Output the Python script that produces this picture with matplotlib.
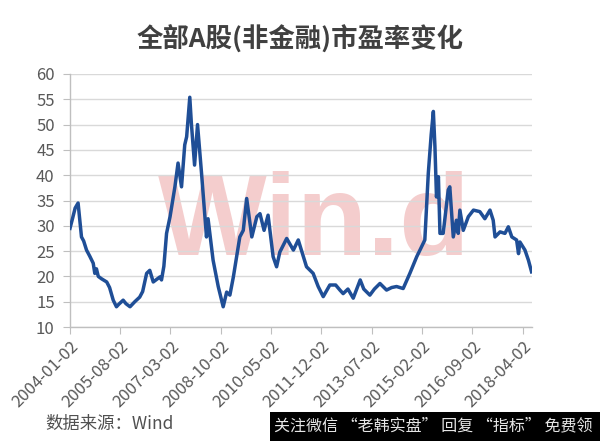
import matplotlib
matplotlib.use('Agg')
import matplotlib.pyplot as plt
import matplotlib.dates as mdates
import pandas as pd

plt.rcParams['font.family'] = ['Noto Sans CJK SC', 'DejaVu Sans']

TITLE = '全部A股(非金融)市盈率变化'
SOURCE = '数据来源：Wind'
FOOTER = '关注微信 “老韩实盘” 回复 “指标” 免费领'

DATES = [
    '2004-01-02', '2004-02-01', '2004-03-01', '2004-04-04', '2004-05-13',
    '2004-06-07', '2004-07-10', '2004-08-16', '2004-09-25', '2004-10-13',
    '2004-11-01', '2004-11-22', '2005-01-01', '2005-02-27', '2005-04-01',
    '2005-05-13', '2005-06-19', '2005-07-16', '2005-09-04', '2005-10-07',
    '2005-11-22', '2006-01-16', '2006-03-13', '2006-04-16', '2006-06-01',
    '2006-07-07', '2006-08-16', '2006-10-01', '2006-11-01', '2006-11-19',
    '2006-12-16', '2007-01-16', '2007-02-25', '2007-04-22', '2007-05-28',
    '2007-07-07', '2007-08-13', '2007-09-04', '2007-10-10', '2007-10-28',
    '2007-12-04', '2008-01-07', '2008-02-22', '2008-04-19', '2008-05-07',
    '2008-07-04', '2008-09-01', '2008-10-28', '2008-12-07', '2009-01-13',
    '2009-02-22', '2009-05-07', '2009-06-16', '2009-07-25', '2009-09-22',
    '2009-11-19', '2009-12-25', '2010-02-10', '2010-03-28', '2010-05-25',
    '2010-07-04', '2010-08-10', '2010-10-28', '2011-01-13', '2011-03-10',
    '2011-06-13', '2011-08-28', '2011-10-25', '2011-12-22', '2012-03-07',
    '2012-05-13', '2012-07-01', '2012-08-07', '2012-10-01', '2012-12-01',
    '2013-02-19', '2013-04-01', '2013-06-10', '2013-08-01', '2013-10-04',
    '2013-12-19', '2014-02-16', '2014-04-13', '2014-06-28', '2014-09-13',
    '2014-12-01', '2015-01-07', '2015-03-04', '2015-04-13', '2015-05-16',
    '2015-06-10', '2015-06-28', '2015-07-16', '2015-08-07', '2015-08-25',
    '2015-10-01', '2015-11-28', '2015-12-16', '2016-01-25', '2016-03-01',
    '2016-03-22', '2016-04-10', '2016-05-19', '2016-07-16', '2016-09-13',
    '2016-11-25', '2017-01-22', '2017-03-22', '2017-04-28', '2017-05-19',
    '2017-07-16', '2017-09-10', '2017-10-19', '2017-11-28', '2018-01-22',
    '2018-02-13', '2018-03-01', '2018-04-28', '2018-06-07', '2018-07-13',
]
PE = [
    29.5, 31.5, 33.5, 34.5, 27.8,
    27.0, 25.2, 24.0, 22.6, 20.6,
    21.5, 20.0, 19.5, 18.9, 17.8,
    15.3, 14.0, 14.5, 15.3, 14.6,
    14.0, 15.0, 15.9, 17.0, 20.6,
    21.2, 18.9, 19.5, 19.9, 19.3,
    22.0, 28.5, 31.8, 37.7, 42.4,
    37.7, 46.0, 47.6, 55.4, 50.3,
    42.0, 50.0, 40.4, 27.8, 31.4,
    23.2, 18.0, 14.0, 16.9, 16.3,
    19.9, 27.8, 29.1, 35.4, 27.8,
    31.8, 32.4, 29.1, 32.1, 23.9,
    21.9, 24.8, 27.5, 25.2, 27.2,
    21.9, 20.6, 18.0, 16.0, 18.3,
    18.3, 17.3, 16.6, 17.5, 15.7,
    19.3, 17.5, 16.3, 17.5, 18.6,
    17.3, 17.8, 18.0, 17.6, 20.6,
    23.9, 25.2, 27.2, 40.4, 48.0,
    52.6, 45.7, 35.7, 39.7, 28.5,
    28.5, 37.1, 37.7, 27.8, 31.1,
    28.5, 33.1, 29.1, 31.8, 33.1,
    32.8, 31.4, 33.1, 31.1, 27.8,
    28.8, 28.5, 29.8, 27.8, 27.2,
    24.5, 26.8, 25.2, 23.2, 20.9,
]
TICK_DATES = ['2004-01-02', '2005-08-02', '2007-03-02', '2008-10-02', '2010-05-02',
              '2011-12-02', '2013-07-02', '2015-02-02', '2016-09-02', '2018-04-02']
Y_TICKS = [10, 15, 20, 25, 30, 35, 40, 45, 50, 55, 60]

dates = pd.to_datetime(DATES)
ticks = pd.to_datetime(TICK_DATES)

fig = plt.figure(figsize=(6.0, 4.41), dpi=100)
ax = fig.add_axes([70 / 600, 1 - 327 / 441, 462 / 600, 253 / 441])

ax.plot(dates, PE, color='#1f4e96', lw=2.5, zorder=3, solid_joinstyle='round')

ax.set_ylim(10, 60)
ax.set_yticks(Y_TICKS)
ax.set_xlim(dates[0], dates[-1] + pd.Timedelta(days=5))
ax.set_xticks(ticks)
ax.xaxis.set_major_formatter(mdates.DateFormatter('%Y-%m-%d'))
ax.grid(axis='y', color='#d9d9d9', lw=1.0, zorder=0)

for side in ('top', 'right'):
    ax.spines[side].set_visible(False)
for side in ('left', 'bottom'):
    ax.spines[side].set_color('#bfbfbf')
    ax.spines[side].set_linewidth(1.0)

ax.tick_params(axis='y', length=5, color='#bfbfbf', labelsize=12,
               labelcolor='#595959', pad=6)
ax.tick_params(axis='x', length=5, color='#bfbfbf', labelsize=12,
               labelcolor='#595959', pad=3)
for lab in ax.get_xticklabels():
    lab.set_rotation(45)
    lab.set_ha('right')
    lab.set_rotation_mode('anchor')

# pink Wind watermark behind the line
ax.text(314 / 600, 1 - 255 / 441, 'Win.d', transform=fig.transFigure,
        fontsize=83, fontweight='bold', family='Liberation Sans',
        color='#f0b8b8', alpha=0.7, ha='center', va='baseline', zorder=1)

fig.text(0.5, 1 - 40 / 441, TITLE, ha='center', va='center',
         fontsize=19, fontweight='bold', color='#404040')
fig.text(45 / 600, 1 - 424 / 441, SOURCE, ha='left', va='center',
         fontsize=12.5, color='#505050')

fig.patches.append(plt.Rectangle((270 / 600, 0), 330 / 600, 29 / 441,
                                 transform=fig.transFigure, facecolor='black',
                                 edgecolor='none', zorder=5))
fig.text(433 / 600, 1 - 426 / 441, FOOTER, ha='center', va='center',
         fontsize=11.5, color='#e6e6e6', zorder=6)

fig.savefig('out.png', dpi=100)
